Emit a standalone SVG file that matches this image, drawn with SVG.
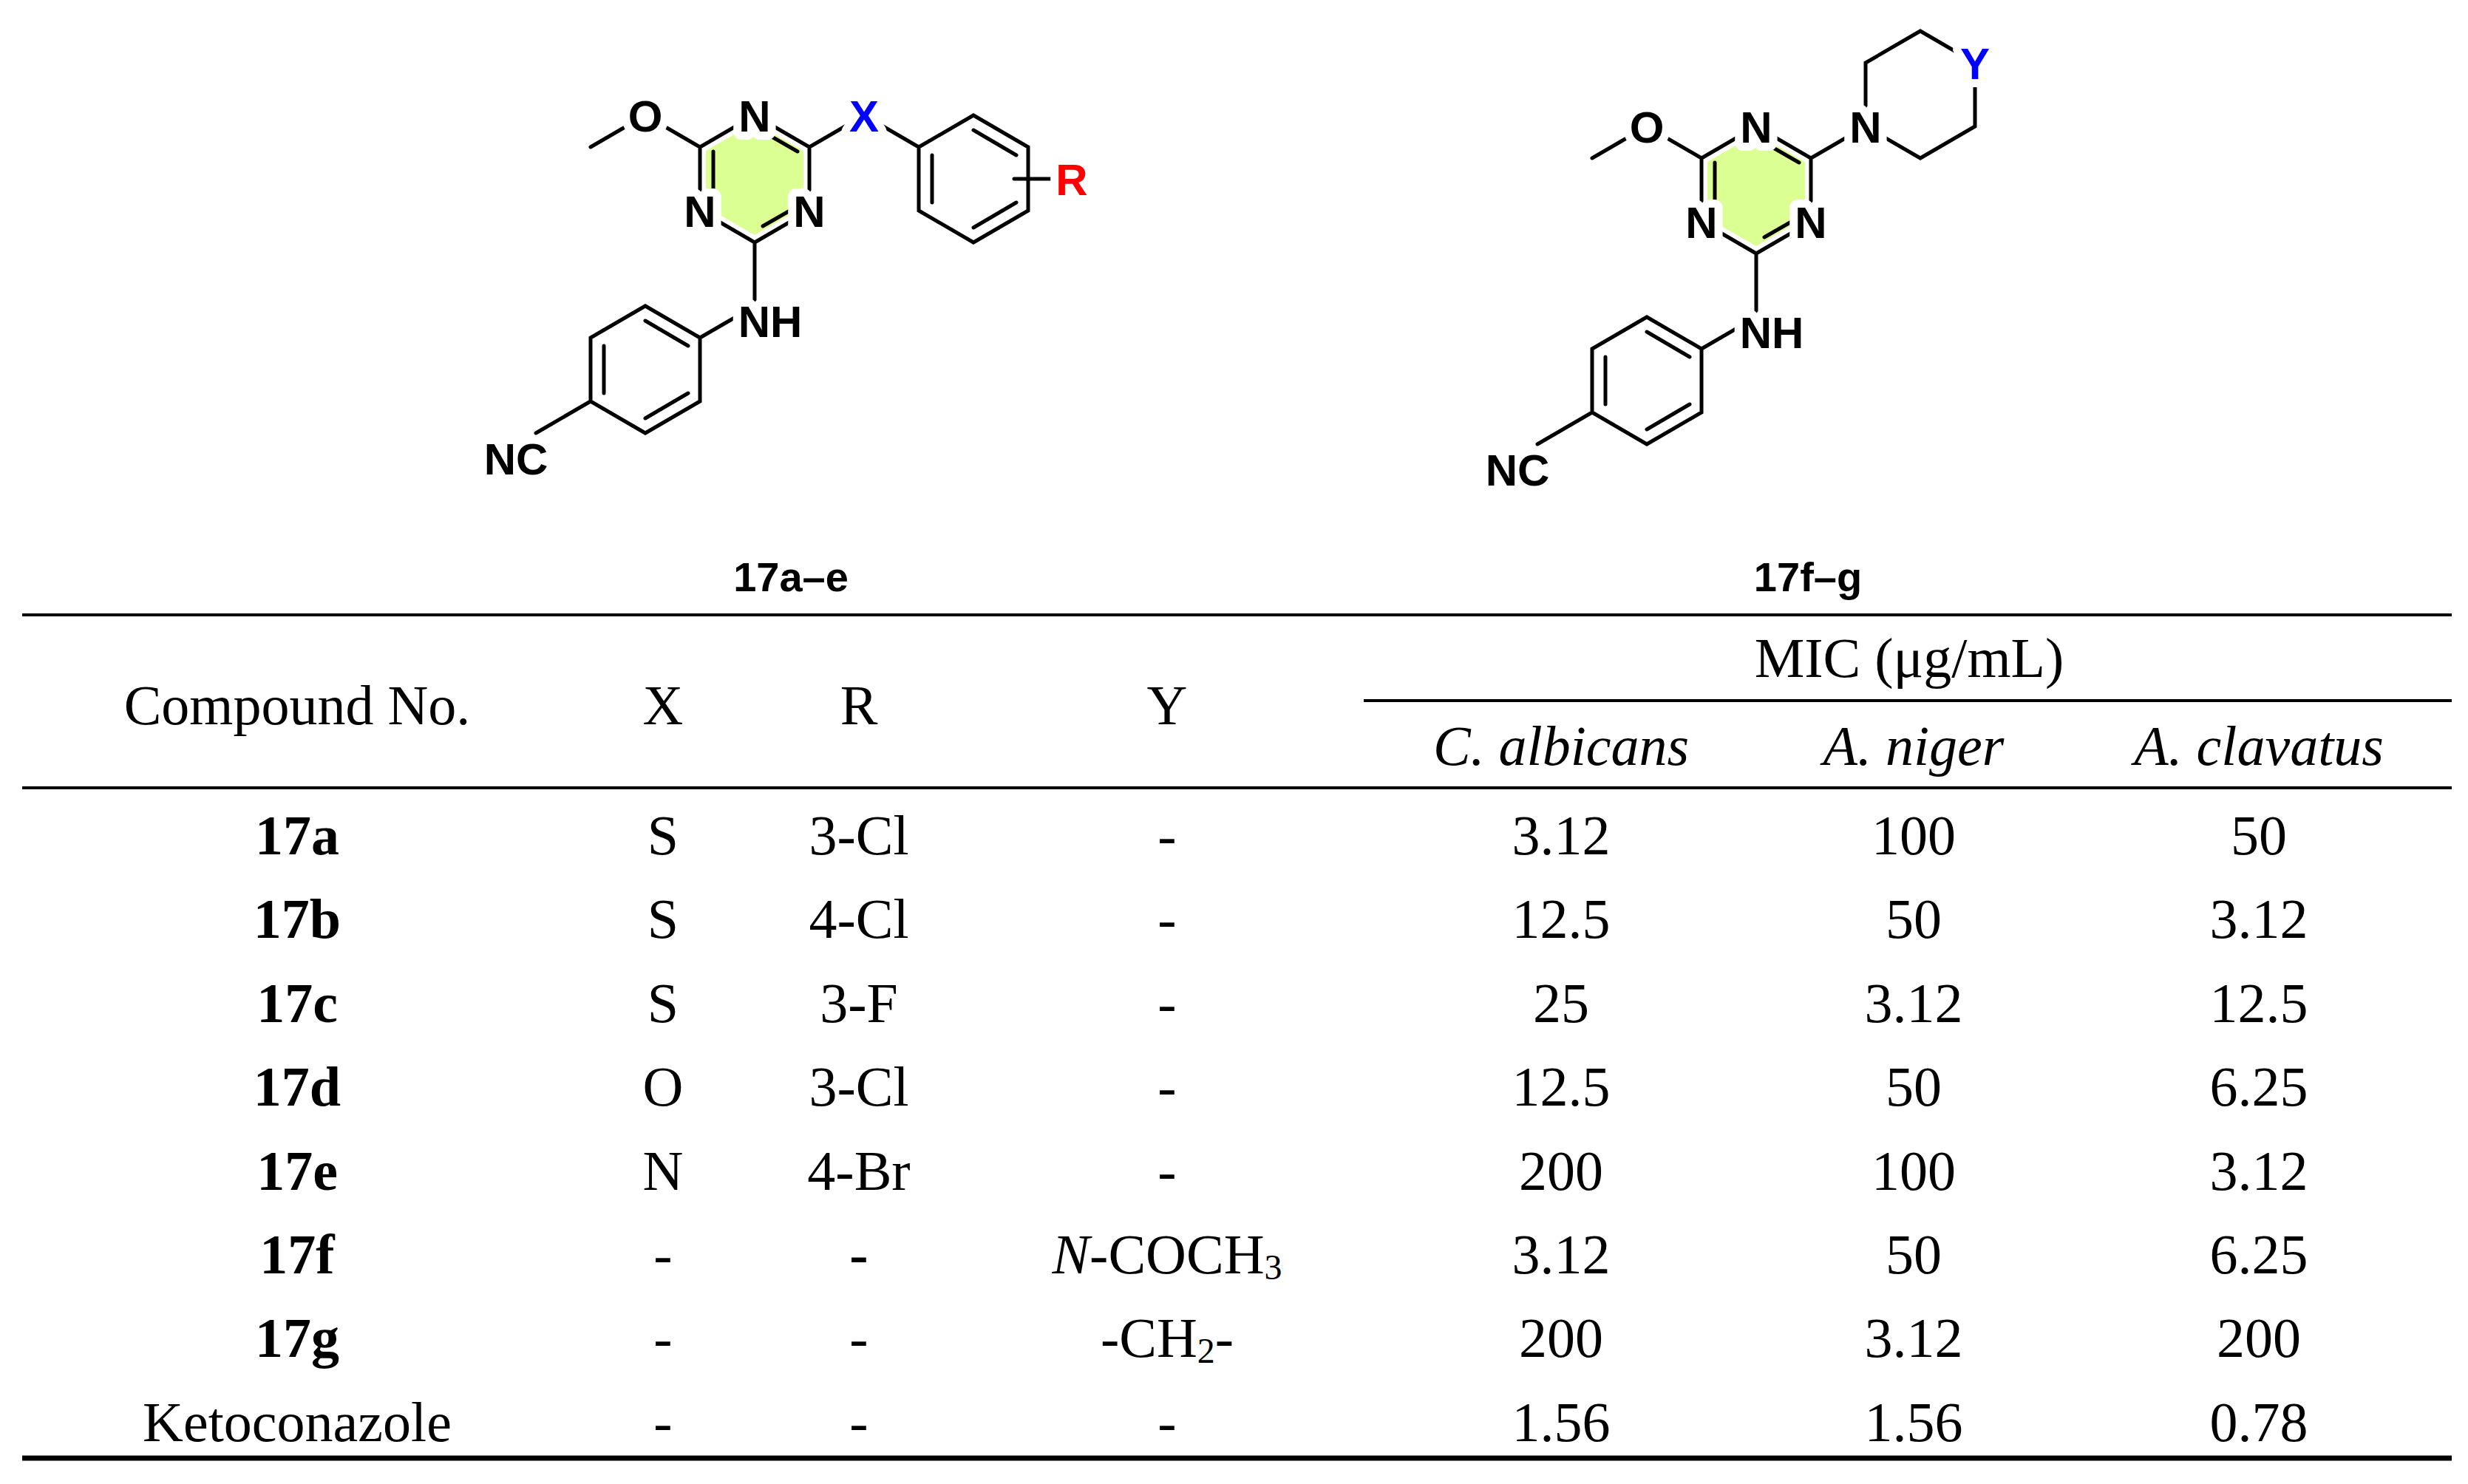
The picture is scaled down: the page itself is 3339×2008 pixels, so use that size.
<svg xmlns="http://www.w3.org/2000/svg" width="3339" height="2008" viewBox="0 0 3339 2008">
<style>
.b{stroke:#000;stroke-width:5;fill:none;stroke-linecap:round}
.a{font-family:"Liberation Sans",Arial,sans-serif;font-weight:bold;font-size:60px;text-anchor:middle;paint-order:stroke;stroke:#fff;stroke-width:22px;stroke-linejoin:round}
.lb{font-family:"Liberation Sans",Arial,sans-serif;font-weight:bold;font-size:56px;text-anchor:middle}
.t{font-family:"Liberation Serif","Times New Roman",serif;font-size:76px;text-anchor:middle}
.bd{font-weight:bold}
.it{font-style:italic}
.g{fill:#dcff94}
.r{stroke:#000;stroke-width:4}
</style>
<rect width="3339" height="2008" fill="#fff"/>
<g id="mol1">
<polygon class="g" points="1021,166 1087,204 1087,280 1021,318 955,280 955,204"/>
<path class="b" d="M1021,156L1095,199L1095,285L1021,328L947,285L947,199Z M1032,178L1079,205 M965,205L965,279 M1032,306L1079,279 M947,199L873,156L799,199 M1095,199L1169,156L1243,199 M1021,328L1021,414L947,457 M1243,199L1317,156L1391,199L1391,285L1317,328L1243,285Z M1317,176L1375,210 M1261,210L1261,274 M1317,308L1375,274 M1372,242L1425,242 M947,457L873,414L799,457L799,543L873,586L947,543Z M873,434L931,468 M817,468L817,532 M873,566L931,532 M799,543L725,586"/>
<circle cx="873" cy="157" r="30" fill="#fff"/>
<text class="a" x="873" y="178">O</text>
<text class="a" x="1021" y="178">N</text>
<text class="a" x="947" y="307">N</text>
<text class="a" x="1095" y="307">N</text>
<text class="a" x="1169" y="178" fill="#0000ff">X</text>
<text class="a" x="1450" y="264" fill="#ff0000">R</text>
<text class="a" x="1042" y="456">NH</text>
<text class="a" x="698" y="642">NC</text>
<text class="lb" x="1070" y="800">17a–e</text>
</g>
<g id="mol2" transform="translate(1355,15)">
<polygon class="g" points="1021,166 1087,204 1087,280 1021,318 955,280 955,204"/>
<path class="b" d="M1021,156L1095,199L1095,285L1021,328L947,285L947,199Z M1032,178L1079,205 M965,205L965,279 M1032,306L1079,279 M947,199L873,156L799,199 M1095,199L1169,156 M1021,328L1021,414L947,457 M947,457L873,414L799,457L799,543L873,586L947,543Z M873,434L931,468 M817,468L817,532 M873,566L931,532 M799,543L725,586 M1169,156L1169,70L1243,27L1317,70L1317,156L1243,199Z"/>
<circle cx="873" cy="157" r="30" fill="#fff"/>
<text class="a" x="873" y="178">O</text>
<text class="a" x="1021" y="178">N</text>
<text class="a" x="947" y="307">N</text>
<text class="a" x="1095" y="307">N</text>
<text class="a" x="1169" y="178">N</text>
<text class="a" x="1317" y="92" fill="#0000ff">Y</text>
<text class="a" x="1042" y="456">NH</text>
<text class="a" x="698" y="642">NC</text>
<text class="lb" x="1091" y="785">17f–g</text>
</g>
<g id="table">
<line class="r" x1="30" y1="832" x2="3317" y2="832"/>
<line class="r" x1="1845" y1="948" x2="3317" y2="948"/>
<line class="r" x1="30" y1="1066" x2="3317" y2="1066"/>
<line x1="30" y1="1973" x2="3317" y2="1973" stroke="#000" stroke-width="7"/>
<g class="t">
<text x="402" y="980">Compound No.</text>
<text x="897" y="980">X</text>
<text x="1162" y="980">R</text>
<text x="1579" y="980">Y</text>
<text x="2583" y="916">MIC (μg/mL)</text>
<text x="2112" y="1035"><tspan class="it">C. albicans</tspan></text>
<text x="2589" y="1035"><tspan class="it">A. niger</tspan></text>
<text x="3056" y="1035"><tspan class="it">A. clavatus</tspan></text>

<text class="bd" x="402" y="1156">17a</text><text x="897" y="1156">S</text><text x="1162" y="1156">3-Cl</text><text x="1579" y="1156">-</text><text x="2112" y="1156">3.12</text><text x="2589" y="1156">100</text><text x="3056" y="1156">50</text>
<text class="bd" x="402" y="1269">17b</text><text x="897" y="1269">S</text><text x="1162" y="1269">4-Cl</text><text x="1579" y="1269">-</text><text x="2112" y="1269">12.5</text><text x="2589" y="1269">50</text><text x="3056" y="1269">3.12</text>
<text class="bd" x="402" y="1383">17c</text><text x="897" y="1383">S</text><text x="1162" y="1383">3-F</text><text x="1579" y="1383">-</text><text x="2112" y="1383">25</text><text x="2589" y="1383">3.12</text><text x="3056" y="1383">12.5</text>
<text class="bd" x="402" y="1496">17d</text><text x="897" y="1496">O</text><text x="1162" y="1496">3-Cl</text><text x="1579" y="1496">-</text><text x="2112" y="1496">12.5</text><text x="2589" y="1496">50</text><text x="3056" y="1496">6.25</text>
<text class="bd" x="402" y="1610">17e</text><text x="897" y="1610">N</text><text x="1162" y="1610">4-Br</text><text x="1579" y="1610">-</text><text x="2112" y="1610">200</text><text x="2589" y="1610">100</text><text x="3056" y="1610">3.12</text>
<text class="bd" x="402" y="1723">17f</text><text x="897" y="1723">-</text><text class="bd" x="1162" y="1723">-</text><text x="1579" y="1723"><tspan class="it">N</tspan>-COCH<tspan font-size="48" dy="8">3</tspan></text><text x="2112" y="1723">3.12</text><text x="2589" y="1723">50</text><text x="3056" y="1723">6.25</text>
<text class="bd" x="402" y="1836">17g</text><text x="897" y="1836">-</text><text x="1162" y="1836">-</text><text x="1579" y="1836">-CH<tspan font-size="48" dy="8">2</tspan><tspan dy="-8">-</tspan></text><text x="2112" y="1836">200</text><text x="2589" y="1836">3.12</text><text x="3056" y="1836">200</text>
<text x="402" y="1950">Ketoconazole</text><text x="897" y="1950">-</text><text x="1162" y="1950">-</text><text x="1579" y="1950">-</text><text x="2112" y="1950">1.56</text><text x="2589" y="1950">1.56</text><text x="3056" y="1950">0.78</text>
</g>
</g>
</svg>
